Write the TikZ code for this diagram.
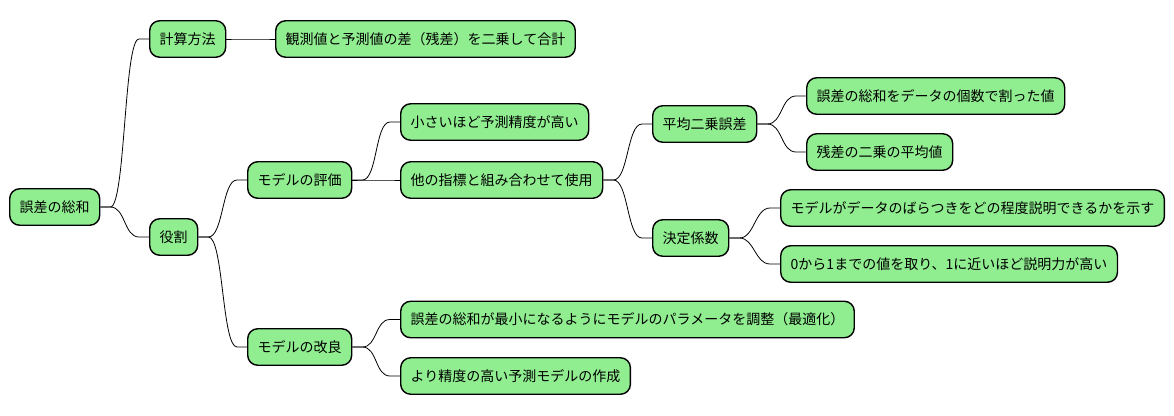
\documentclass[tikz,border=0pt]{standalone}
\usepackage{fontspec}
\setmainfont{Noto Sans CJK JP}
\usetikzlibrary{calc}
\begin{document}
\begin{tikzpicture}[x=1pt,y=-1pt,
  box/.style={draw=black,line width=1.4pt,fill=mmgreen,rounded corners=10pt,
    minimum height=36.5pt,inner xsep=10pt,inner ysep=0pt,anchor=west,
    font=\fontsize{14}{16}\selectfont},
  conn/.style={draw=black,line width=0.8pt,
    to path={-- ++(10,0) .. controls +(15,0) and +(-15,0) .. ($(\tikztotarget)+(-10,0)$) -- (\tikztotarget)}}]
\definecolor{mmgreen}{RGB}{144,238,144}
\useasboundingbox (0,0) rectangle (1174,415);
\node[box] (root) at (9,207) {誤差の総和};
\node[box] (calc) at (149,39) {計算方法};
\node[box] (calcd) at (275,39) {観測値と予測値の差（残差）を二乗して合計};
\node[box] (role) at (149,237) {役割};
\node[box] (eval) at (247,180) {モデルの評価};
\node[box] (small) at (400,122) {小さいほど予測精度が高い};
\node[box] (other) at (400,180) {他の指標と組み合わせて使用};
\node[box] (mse) at (652,124) {平均二乗誤差};
\node[box] (mse1) at (806,96) {誤差の総和をデータの個数で割った値};
\node[box] (mse2) at (806,152) {残差の二乗の平均値};
\node[box] (r2) at (652,238) {決定係数};
\node[box] (r21) at (780,208) {モデルがデータのばらつきをどの程度説明できるかを示す};
\node[box] (r22) at (780,264) {0から1までの値を取り、1に近いほど説明力が高い};
\node[box] (impr) at (247,347) {モデルの改良};
\node[box] (impr1) at (400,319.5) {誤差の総和が最小になるようにモデルのパラメータを調整（最適化）};
\node[box] (impr2) at (400,376) {より精度の高い予測モデルの作成};
\draw[conn] (root.east) to (calc.west);
\draw[conn] (calc.east) to (calcd.west);
\draw[conn] (root.east) to (role.west);
\draw[conn] (role.east) to (eval.west);
\draw[conn] (eval.east) to (small.west);
\draw[conn] (eval.east) to (other.west);
\draw[conn] (other.east) to (mse.west);
\draw[conn] (mse.east) to (mse1.west);
\draw[conn] (mse.east) to (mse2.west);
\draw[conn] (other.east) to (r2.west);
\draw[conn] (r2.east) to (r21.west);
\draw[conn] (r2.east) to (r22.west);
\draw[conn] (role.east) to (impr.west);
\draw[conn] (impr.east) to (impr1.west);
\draw[conn] (impr.east) to (impr2.west);
\end{tikzpicture}
\end{document}
